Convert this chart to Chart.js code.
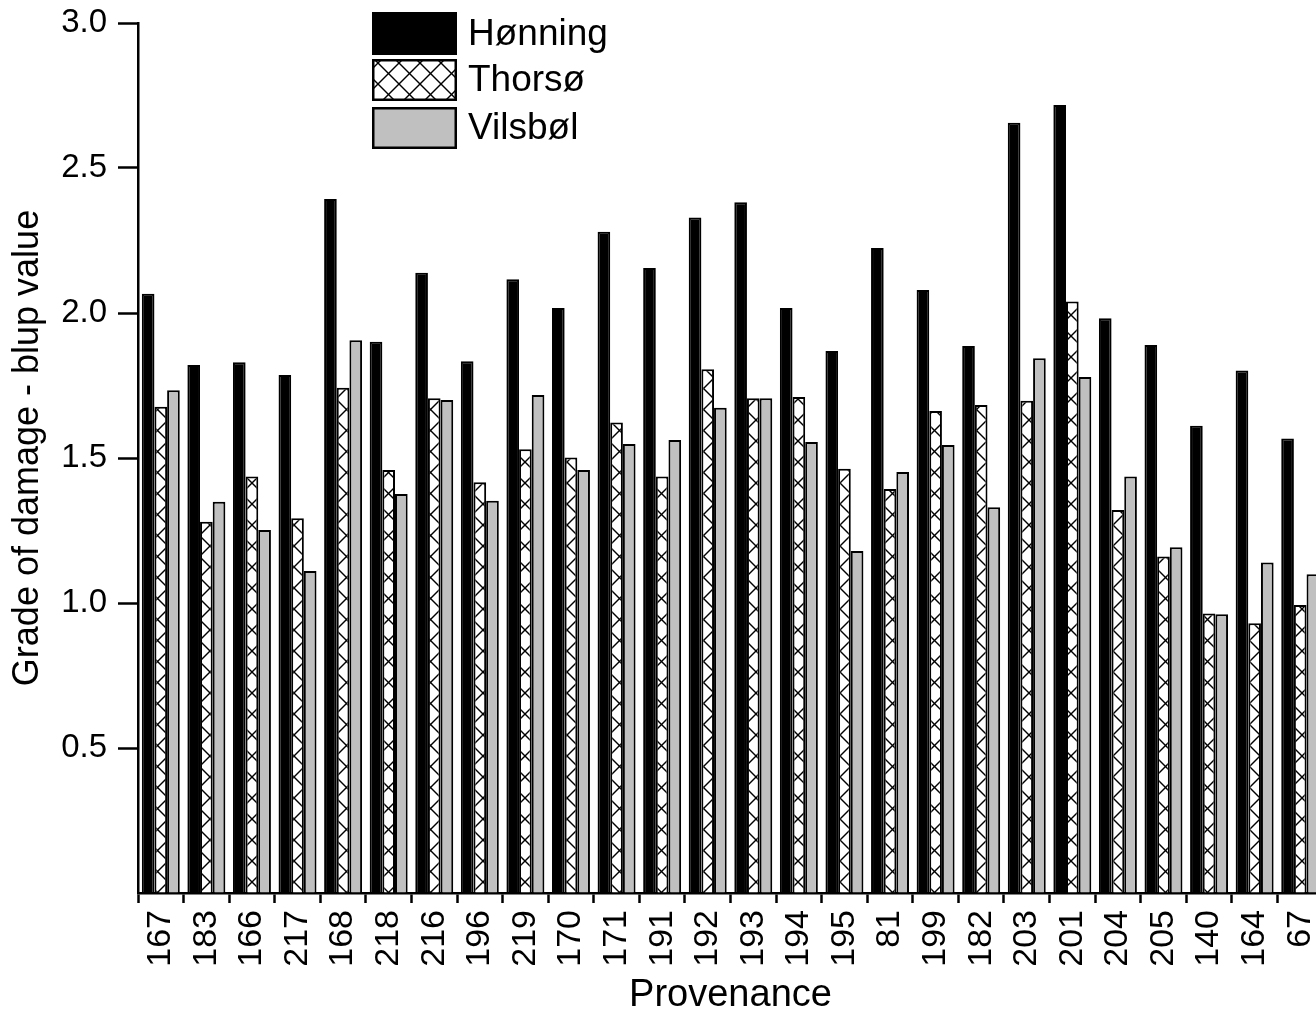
<!DOCTYPE html>
<html>
<head>
<meta charset="utf-8">
<script src="https://cdn.jsdelivr.net/npm/chart.js@4.4.0/dist/chart.umd.min.js"></script>
<style>
  html, body { margin: 0; padding: 0; background: #fff; }
  #wrap { width: 1316px; height: 1014px; overflow: hidden; position: relative; background: #fff; }
  canvas { display: block; }
</style>
</head>
<body>
<div id="wrap"><canvas id="c" width="1336" height="1014" style="width:1336px;height:1014px"></canvas></div>
<script>
// ---- data ----
const categories = ['167','183','166','217','168','218','216','196','219','170','171','191','192','193','194','195','81','199','182','203','201','204','205','140','164','67'];
const honning = [2.066,1.821,1.830,1.786,2.393,1.901,2.139,1.834,2.116,2.017,2.280,2.155,2.329,2.382,2.017,1.869,2.224,2.079,1.886,2.656,2.717,1.982,1.890,1.611,1.802,1.567];
const thorso  = [1.677,1.280,1.436,1.292,1.742,1.459,1.706,1.416,1.530,1.502,1.622,1.436,1.806,1.706,1.710,1.463,1.393,1.662,1.683,1.697,2.040,1.321,1.160,0.964,0.930,0.993];
const vilsbol = [1.734,1.349,1.252,1.110,1.906,1.376,1.700,1.353,1.717,1.459,1.548,1.562,1.673,1.706,1.555,1.179,1.452,1.545,1.330,1.844,1.779,1.436,1.192,0.961,1.140,1.099];
const seriesNames = ['Hønning','Thorsø','Vilsbøl'];
const yTicks = [0.5, 1.0, 1.5, 2.0, 2.5, 3.0];

// ---- crosshatch pattern ----
function makeHatch() {
  const s = 21;
  const pc = document.createElement('canvas');
  pc.width = s; pc.height = s;
  const p = pc.getContext('2d');
  p.fillStyle = '#fff';
  p.fillRect(0, 0, s, s);
  p.strokeStyle = '#000';
  p.lineWidth = 1.4;
  for (const o of [-s, 0, s]) {
    p.beginPath(); p.moveTo(o, 0); p.lineTo(o + s, s); p.stroke();
    p.beginPath(); p.moveTo(o + s, 0); p.lineTo(o, s); p.stroke();
  }
  return document.getElementById('c').getContext('2d').createPattern(pc, 'repeat');
}
const hatch = makeHatch();

const FONT = "'Liberation Sans', Arial, sans-serif";

const legendPlugin = {
  id: 'boxLegend',
  afterDraw(chart) {
    const ctx = chart.ctx;
    const boxes = [[372, 12, 85, 43], [372, 59, 85, 42], [372, 107, 85, 42]];
    ctx.save();
    chart.data.datasets.forEach((ds, i) => {
      const [x, y, w, h] = boxes[i];
      ctx.fillStyle = ds.backgroundColor;
      ctx.fillRect(x, y, w, h);
      ctx.lineWidth = 2.5;
      ctx.strokeStyle = '#000';
      ctx.strokeRect(x + 1.25, y + 1.25, w - 2.5, h - 2.5);
      ctx.fillStyle = '#000';
      ctx.font = '37px ' + FONT;
      ctx.textBaseline = 'middle';
      ctx.textAlign = 'left';
      ctx.fillText(ds.label, 468, y + h / 2 + 1);
    });
    ctx.restore();
  }
};

new Chart(document.getElementById('c'), {
  type: 'bar',
  data: {
    labels: categories,
    datasets: [
      { label: seriesNames[0], data: honning, backgroundColor: '#000000', borderColor: '#000', borderWidth: 2 },
      { label: seriesNames[1], data: thorso,  backgroundColor: hatch,     borderColor: '#000', borderWidth: 2 },
      { label: seriesNames[2], data: vilsbol, backgroundColor: '#c0c0c0', borderColor: '#000', borderWidth: 2 }
    ]
  },
  options: {
    responsive: false,
    animation: false,
    devicePixelRatio: 1,
    layout: { padding: { left: 0, right: 13, top: 23, bottom: 0 } },
    datasets: { bar: { categoryPercentage: 0.833, barPercentage: 1.0 } },
    plugins: { legend: { display: false }, tooltip: { enabled: false } },
    scales: {
      x: {
        offset: true,
        grid: { offset: true, drawOnChartArea: false, drawTicks: true, tickLength: 10, tickWidth: 2.5, tickColor: '#000' },
        border: { display: true, width: 2.5, color: '#000' },
        ticks: { autoSkip: false, minRotation: 90, maxRotation: 90, padding: 7, color: '#000', font: { family: FONT, size: 34 } },
        title: { display: true, text: 'Provenance', color: '#000', font: { family: FONT, size: 38 }, padding: { top: 0, bottom: -4 } },
        afterFit(scale) { scale.height = 121; scale.paddingLeft = 0; scale.paddingRight = 0; }
      },
      y: {
        min: 0, max: 3,
        afterBuildTicks(scale) { scale.ticks = [0].concat(yTicks).map(v => ({ value: v })); },
        grid: { drawOnChartArea: false, drawTicks: true, tickLength: 20, tickWidth: 2.5,
                tickColor: (c) => (c.tick && c.tick.value === 0) ? 'rgba(0,0,0,0)' : '#000' },
        border: { display: true, width: 2.5, color: '#000' },
        ticks: { padding: 11, color: '#000', font: { family: FONT, size: 33 },
                 callback: (v) => v === 0 ? '' : Number(v).toFixed(1) },
        title: { display: true, text: '\u00a0\u00a0Grade of damage - blup value', color: '#000', font: { family: FONT, size: 36 }, padding: { top: 6, bottom: 0 } },
        afterFit(scale) { scale.width = 138; scale.paddingTop = 0; scale.paddingBottom = 0; }
      }
    }
  },
  plugins: [legendPlugin]
});
</script>
</body>
</html>
